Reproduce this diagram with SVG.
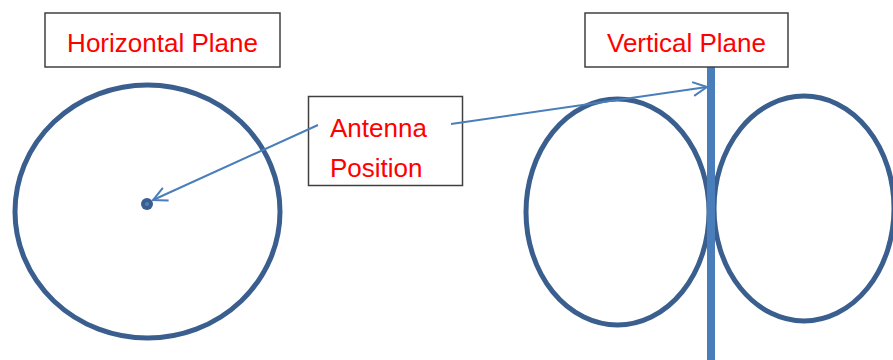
<svg xmlns="http://www.w3.org/2000/svg" width="893" height="360" viewBox="0 0 893 360">
<style>
.box{fill:#fff;stroke:#404040;stroke-width:1.5}
.lbl{font-family:"Liberation Sans",Arial,sans-serif;font-size:26px;fill:#ff0000}
.pat{fill:none;stroke:#3a5f8f;stroke-width:5}
.con{fill:none;stroke:#4a7ebb;stroke-width:2}
</style>
<defs>
<marker id="arr" viewBox="0 0 16 16" refX="15" refY="8" markerWidth="16" markerHeight="16" markerUnits="userSpaceOnUse" orient="auto">
<path d="M1 1 L15 8 L1 15" fill="none" stroke="#4a7ebb" stroke-width="2"/>
</marker>
</defs>
<g id="horizontal-pattern">
<ellipse class="pat" cx="147.5" cy="211.5" rx="132.5" ry="126.5"/>
<circle cx="147" cy="204" r="6" fill="#3a5f8f"/>
<circle cx="147" cy="204" r="2" fill="#4f81bd"/>
</g>
<g id="vertical-pattern">
<ellipse class="pat" cx="617.5" cy="212" rx="91.5" ry="113"/>
<ellipse class="pat" cx="804" cy="208.5" rx="90" ry="112.5"/>
<rect x="707" y="67" width="8" height="293" fill="#4a7ebb"/>
</g>
<g id="horizontal-plane">
<rect class="box" x="45" y="13" width="235" height="54"/>
<text class="lbl" x="162.5" y="52" text-anchor="middle">Horizontal Plane</text>
</g>
<g id="vertical-plane">
<rect class="box" x="585" y="13" width="203" height="54"/>
<text class="lbl" x="686.5" y="52" text-anchor="middle">Vertical Plane</text>
</g>
<g id="antenna-position">
<rect class="box" x="308.5" y="96.5" width="154" height="89"/>
<text class="lbl" x="330" y="137">Antenna</text>
<text class="lbl" x="330" y="177">Position</text>
</g>
<g id="connectors">
<line class="con" x1="318" y1="125" x2="153" y2="200" marker-end="url(#arr)"/>
<line class="con" x1="451" y1="124" x2="707" y2="87" marker-end="url(#arr)"/>
</g>
</svg>
